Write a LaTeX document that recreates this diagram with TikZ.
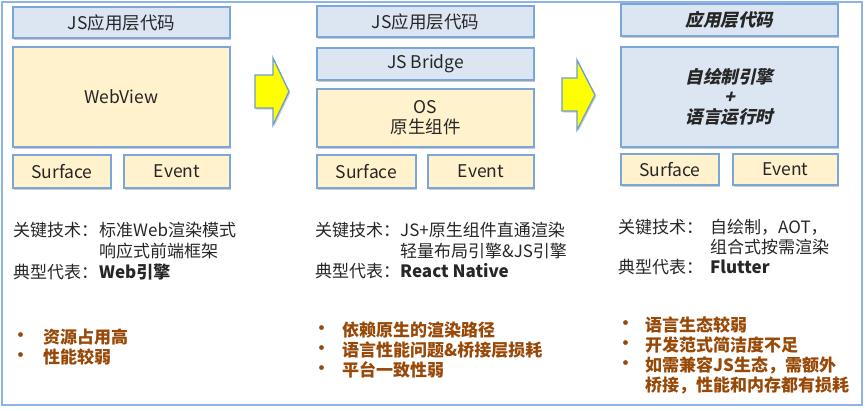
\documentclass[tikz,border=0pt]{standalone}
\usepackage{fontspec}
\setmainfont{Noto Sans CJK SC}
\newfontfamily\slfont{Noto Sans CJK SC}[FakeSlant=0.22]
\usetikzlibrary{shadows}
\definecolor{boxblue}{HTML}{DCE6F2}
\definecolor{boxyellow}{HTML}{FFF2CC}
\definecolor{edgeblue}{HTML}{7BA6D8}
\definecolor{framblue}{HTML}{8DB4E2}
\definecolor{browntext}{HTML}{984807}
\definecolor{arrowyellow}{HTML}{FFFF00}
\definecolor{arrowedge}{HTML}{6F9DD3}
\tikzset{
  layer/.style={draw=edgeblue, line width=1.5pt,
    drop shadow={shadow xshift=1.3pt, shadow yshift=-1.5pt, opacity=0.35, fill=black!60},
    inner sep=0pt, align=center, font=\fontsize{17.5}{20}\selectfont, text=black!85},
  bluebox/.style={layer, fill=boxblue},
  yelbox/.style={layer, fill=boxyellow},
  lbl/.style={anchor=west, inner sep=0pt, text=black!85, font=\fontsize{17}{20}\selectfont},
  bullettxt/.style={anchor=west, inner sep=0pt, text=browntext, font=\fontsize{17}{20}\selectfont\bfseries},
  bigarrow/.style={draw=arrowedge, line width=1.3pt, fill=arrowyellow, line join=miter,
    drop shadow={shadow xshift=1.3pt, shadow yshift=-1.5pt, opacity=0.3, fill=black!60}}
}
\begin{document}
\begin{tikzpicture}[x=1pt,y=-1pt]
\useasboundingbox (0,0) rectangle (866,410);
\draw[framblue, line width=2pt] (2,1.5) rectangle (862,405);

% panel 1
\node[bluebox, minimum width=217pt, minimum height=31pt] (js1) at (121.5,22.5) {JS应用层代码};
\node[yelbox, minimum width=217pt, minimum height=100pt] (wv1) at (121.5,97) {WebView};
\node[yelbox, minimum width=98pt, minimum height=33pt] (sf1) at (62,171.5) {Surface};
\node[yelbox, minimum width=106pt, minimum height=33pt] (ev1) at (177,171.5) {Event};

% panel 2
\node[bluebox, minimum width=217pt, minimum height=31pt] (js2) at (425.5,21.5) {JS应用层代码};
\node[bluebox, minimum width=217pt, minimum height=32pt] (br2) at (425.5,64) {JS Bridge};
\node[yelbox, minimum width=217pt, minimum height=58pt] (os2) at (425.5,118) {OS\\原生组件};
\node[yelbox, minimum width=99pt, minimum height=33pt] (sf2) at (366.5,171.5) {Surface};
\node[yelbox, minimum width=106pt, minimum height=33pt] (ev2) at (481,171.5) {Event};

% panel 3
\node[bluebox, minimum width=217pt, minimum height=32pt, font=\fontsize{17.5}{20}\selectfont\slfont\bfseries] (ap3) at (729.5,20) {应用层代码};
\node[bluebox, minimum width=217pt, minimum height=100pt, font=\fontsize{17.5}{20}\selectfont\slfont\bfseries] (en3) at (729.5,97) {自绘制引擎\\+\\语言运行时};
\node[yelbox, minimum width=98pt, minimum height=31pt] (sf3) at (670,169.5) {Surface};
\node[yelbox, minimum width=105pt, minimum height=31pt] (ev3) at (785.5,169.5) {Event};

% arrows
\draw[bigarrow] (255,75) -- (273,75) -- (273,58) -- (289,91.5) -- (273,125) -- (273,108) -- (255,108) -- cycle;
\draw[bigarrow] (562,78) -- (577,78) -- (577,60) -- (595,95) -- (577,130) -- (577,111) -- (562,111) -- cycle;

% panel 1 text
\node[lbl] (k1) at (13,230) {关键技术：};
\node[lbl] (k1a) at (99,230) {标准Web渲染模式};
\node[lbl] (k1b) at (99,251) {响应式前端框架};
\node[lbl] (t1) at (13,272) {典型代表：};
\node[lbl, font=\fontsize{17}{20}\selectfont\bfseries] (t1a) at (99,272) {Web引擎};
\node[bullettxt] (b1d1) at (12,337) {•};
\node[bullettxt] (b1a) at (43,337) {资源占用高};
\node[bullettxt] (b1d2) at (12,357) {•};
\node[bullettxt] (b1b) at (43,357) {性能较弱};

% panel 2 text
\node[lbl] (k2) at (315,230) {关键技术：};
\node[lbl] (k2a) at (400,230) {JS+原生组件直通渲染};
\node[lbl] (k2b) at (400,251) {轻量布局引擎\&JS引擎};
\node[lbl] (t2) at (315,271) {典型代表：};
\node[lbl, font=\fontsize{17}{20}\selectfont\bfseries] (t2a) at (400,271) {React Native};
\node[bullettxt] (b2d1) at (313,330) {•};
\node[bullettxt] (b2a) at (342,330) {依赖原生的渲染路径};
\node[bullettxt] (b2d2) at (313,350) {•};
\node[bullettxt] (b2b) at (342,350) {语言性能问题\&桥接层损耗};
\node[bullettxt] (b2d3) at (313,370) {•};
\node[bullettxt] (b2c) at (342,370) {平台一致性弱};

% panel 3 text
\node[lbl] (k3) at (618,227) {关键技术：};
\node[lbl] (k3a) at (710,227) {自绘制，AOT，};
\node[lbl] (k3b) at (710,247) {组合式按需渲染};
\node[lbl] (t3) at (618,267) {典型代表：};
\node[lbl, font=\fontsize{17}{20}\selectfont\bfseries] (t3a) at (710,267) {Flutter};
\node[bullettxt] (b3d1) at (617,325) {•};
\node[bullettxt] (b3a) at (645,325) {语言生态较弱};
\node[bullettxt] (b3d2) at (617,345) {•};
\node[bullettxt] (b3b) at (645,345) {开发范式简洁度不足};
\node[bullettxt] (b3d3) at (617,365) {•};
\node[bullettxt] (b3c) at (645,365) {如需兼容JS生态，需额外};
\node[bullettxt] (b3e) at (645,386) {桥接，性能和内存都有损耗};
\end{tikzpicture}
\end{document}
